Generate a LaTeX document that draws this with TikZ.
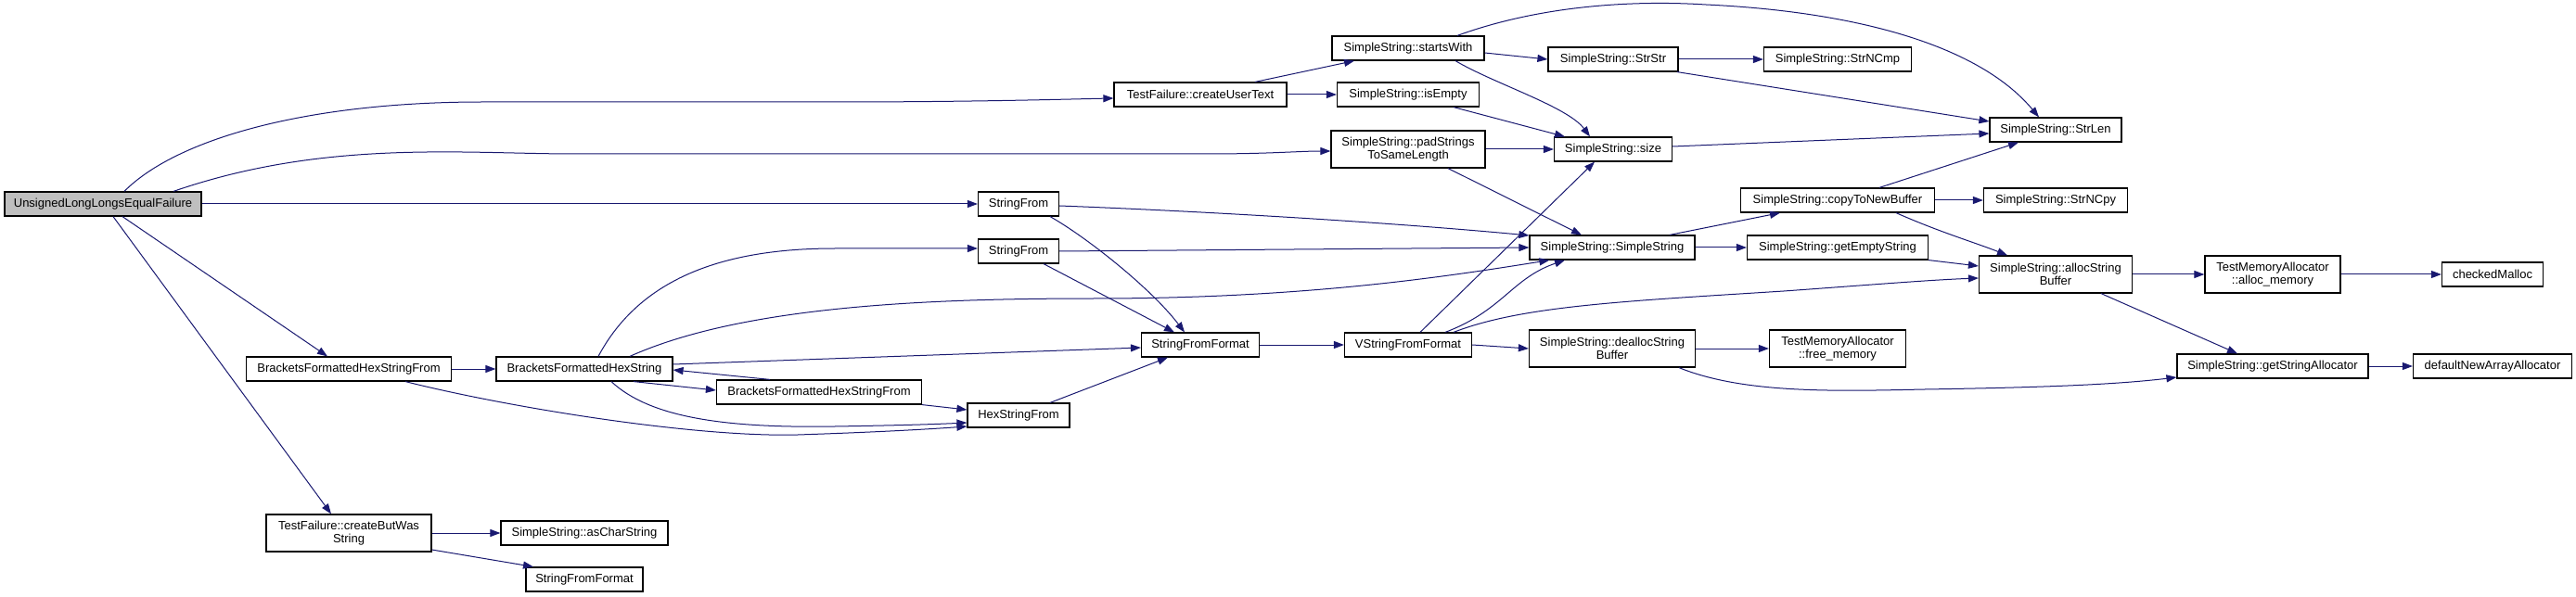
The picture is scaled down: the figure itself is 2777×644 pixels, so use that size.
\documentclass[tikz,border=0pt]{standalone}
\usepackage{fontspec}
\setmainfont{Liberation Sans}
\usetikzlibrary{arrows.meta}
\definecolor{edgeblue}{RGB}{25,25,112}
\definecolor{rootgray}{RGB}{191,191,191}
\tikzset{
  fn/.style={draw=black, line width=1.2pt, fill=white, inner sep=0pt, minimum height=26pt, align=center,
    font=\fontsize{13}{14}\selectfont},
  tall/.style={minimum height=40pt},
  edge/.style={draw=edgeblue, line width=1pt, -{Triangle[length=11pt,width=8pt]}},
}
\begin{document}
\begin{tikzpicture}[x=1pt,y=-1pt]
\useasboundingbox (0,0) rectangle (2777,644);
% nodes
\node[fn, fill=rootgray, minimum width=212pt] (root) at (111,220) {UnsignedLongLongsEqualFailure};
\node[fn, minimum width=186pt] (cut) at (1294,102) {TestFailure::createUserText};
\node[fn, minimum width=87pt] (sf1) at (1098,220) {StringFrom};
\node[fn, minimum width=87pt] (sf2) at (1098,271) {StringFrom};
\node[fn, minimum width=164pt] (sw) at (1518,52) {SimpleString::startsWith};
\node[fn, minimum width=140pt] (strstr) at (1739,64) {SimpleString::StrStr};
\node[fn, minimum width=159pt] (strncmp) at (1981,64) {SimpleString::StrNCmp};
\node[fn, minimum width=153pt] (isempty) at (1518,102) {SimpleString::isEmpty};
\node[fn, tall, minimum width=166pt] (pad) at (1518,161) {SimpleString::padStrings\\ToSameLength};
\node[fn, minimum width=127pt] (size) at (1739,161) {SimpleString::size};
\node[fn, minimum width=142pt] (strlen) at (2216,140) {SimpleString::StrLen};
\node[fn, minimum width=209pt] (copy) at (1981,216) {SimpleString::copyToNewBuffer};
\node[fn, minimum width=155pt] (strncpy) at (2216,216) {SimpleString::StrNCpy};
\node[fn, minimum width=178pt] (ss) at (1738,267) {SimpleString::SimpleString};
\node[fn, minimum width=195pt] (ges) at (1981,267) {SimpleString::getEmptyString};
\node[fn, tall, minimum width=165pt] (alloc) at (2216,296) {SimpleString::allocString\\Buffer};
\node[fn, tall, minimum width=146pt] (amem) at (2450,296) {TestMemoryAllocator\\::alloc\_memory};
\node[fn, minimum width=109pt] (cmalloc) at (2687,296) {checkedMalloc};
\node[fn, minimum width=221pt] (bfhsf1) at (376,398) {BracketsFormattedHexStringFrom};
\node[fn, minimum width=190pt] (bfhs) at (630,398) {BracketsFormattedHexString};
\node[fn, minimum width=221pt] (bfhsf2) at (883,423) {BracketsFormattedHexStringFrom};
\node[fn, minimum width=110pt] (hsf) at (1098,448) {HexStringFrom};
\node[fn, minimum width=127pt] (sff1) at (1294,372) {StringFromFormat};
\node[fn, tall, minimum width=178pt] (cbws) at (376,575) {TestFailure::createButWas\\String};
\node[fn, minimum width=180pt] (acs) at (630,575) {SimpleString::asCharString};
\node[fn, minimum width=126pt] (sff2) at (630,625) {StringFromFormat};
\node[fn, minimum width=137pt] (vsff) at (1518,372) {VStringFromFormat};
\node[fn, tall, minimum width=179pt] (dealloc) at (1738,376) {SimpleString::deallocString\\Buffer};
\node[fn, tall, minimum width=147pt] (fmem) at (1981,376) {TestMemoryAllocator\\::free\_memory};
\node[fn, minimum width=206pt] (gsa) at (2450,395) {SimpleString::getStringAllocator};
\node[fn, minimum width=171pt] (dnaa) at (2687,395) {defaultNewArrayAllocator};
% edges from root
\draw[edge] ([xshift=23pt]root.north) .. controls (190,150) and (330,110) .. (520,110) -- (900,110) .. controls (1050,110) and (1150,107) .. ([yshift=-4pt]cut.west);
\draw[edge] ([xshift=76pt]root.north) .. controls (350,150) and (500,166) .. (620,166) -- (1300,166) .. controls (1370,166) and (1400,163) .. ([yshift=-2pt]pad.west);
\draw[edge] (root.east) -- (sf1.west);
\draw[edge] ([xshift=21pt]root.south) -- ([xshift=-23pt]bfhsf1.north);
\draw[edge] ([xshift=11pt]root.south) -- ([xshift=-19pt]cbws.north);
% createUserText
\draw[edge] ([xshift=59pt]cut.north) -- ([xshift=-58pt]sw.south);
\draw[edge] (cut.east) -- (isempty.west);
% startsWith
\draw[edge] ([yshift=-5pt]sw.east) -- (strstr.west);
\draw[edge] ([xshift=53pt]sw.north) .. controls (1660,6) and (1760,0) .. (1839,5) .. controls (1990,12) and (2130,45) .. ([xshift=-18pt]strlen.north);
\draw[edge] ([xshift=51pt]sw.south) .. controls (1610,90) and (1690,115) .. ([xshift=-25pt]size.north);
% StrStr
\draw[edge] (strstr.east) -- (strncmp.west);
\draw[edge] ([xshift=69pt]strstr.south) -- ([yshift=9pt]strlen.west);
% isEmpty
\draw[edge] ([xshift=49pt]isempty.south) -- ([xshift=-52pt]size.north);
% padStrings
\draw[edge] (pad.east) -- (size.west);
\draw[edge] ([xshift=43pt]pad.south) -- ([xshift=-33pt]ss.north);
% size
\draw[edge] ([yshift=3pt]size.east) -- ([yshift=-4pt]strlen.west);
% copyToNewBuffer
\draw[edge] ([xshift=45pt]copy.north) -- ([xshift=-40pt]strlen.south);
\draw[edge] (copy.east) -- (strncpy.west);
\draw[edge] ([xshift=63pt]copy.south) .. controls (2090,250) and (2130,262) .. ([xshift=-52pt]alloc.north);
% SimpleString
\draw[edge] ([xshift=62pt]ss.north) -- ([xshift=-62pt]copy.south);
\draw[edge] (ss.east) -- (ges.west);
% getEmptyString
\draw[edge] (ges.south east) -- ([yshift=9pt]alloc.west);
% allocStringBuffer
\draw[edge] (alloc.east) -- (amem.west);
\draw[edge] ([xshift=49pt]alloc.south) -- ([xshift=-38pt]gsa.north);
\draw[edge] (amem.east) -- (cmalloc.west);
\draw[edge] (gsa.east) -- (dnaa.west);
% StringFrom 1
\draw[edge] ([yshift=-2pt]sf1.east) .. controls (1300,228) and (1500,240) .. ([yshift=13pt]ss.west);
\draw[edge] ([xshift=34pt]sf1.south) .. controls (1170,255) and (1240,310) .. ([xshift=-17pt]sff1.north);
% StringFrom 2
\draw[edge] (sf2.east) -- (ss.west);
\draw[edge] ([xshift=27pt]sf2.south) -- ([xshift=-28pt]sff1.north);
% BracketsFormattedHexString
\draw[edge] ([xshift=15pt]bfhs.north) .. controls (690,300) and (780,268) .. (900,268) -- ([yshift=3pt]sf2.west);
\draw[edge] ([xshift=49pt]bfhs.north) .. controls (800,330) and (1000,322) .. (1180,322) .. controls (1400,322) and (1550,300) .. ([xshift=22pt]ss.south west);
\draw[edge] ([yshift=5pt]bfhs.east) -- ([yshift=-3pt]sff1.west);
\draw[edge] ([xshift=53pt]bfhs.south) -- ([yshift=2pt]bfhsf2.west);
\draw[edge] ([xshift=29pt]bfhs.south) .. controls (700,450) and (780,462) .. (900,460) .. controls (960,459) and (1000,458) .. ([yshift=-8pt]hsf.west);
% BracketsFormattedHexStringFrom 2
\draw[edge] ([xshift=-53pt]bfhsf2.north) -- ([yshift=-1pt]bfhs.east);
\draw[edge] (bfhsf2.south east) -- ([yshift=6pt]hsf.west);
% BracketsFormattedHexStringFrom 1
\draw[edge] (bfhsf1.east) -- (bfhs.west);
\draw[edge] ([xshift=61pt]bfhsf1.south) .. controls (550,440) and (750,472) .. (860,469) .. controls (950,466) and (1000,463) .. ([yshift=-12pt]hsf.west);
% HexStringFrom
\draw[edge] ([xshift=34pt]hsf.north) -- ([xshift=-35pt]sff1.south);
% StringFromFormat
\draw[edge] (sff1.east) -- (vsff.west);
% VStringFromFormat
\draw[edge] ([xshift=13pt]vsff.north) -- ([xshift=-20pt]size.south);
\draw[edge] ([xshift=40pt]vsff.north) .. controls (1620,335) and (1630,300) .. ([xshift=-51pt]ss.south);
\draw[edge] ([xshift=49pt]vsff.north) .. controls (1640,330) and (1750,325) .. (1923,314) .. controls (2020,307) and (2080,302) .. ([yshift=-4pt]alloc.west);
\draw[edge] (vsff.east) -- (dealloc.west);
% deallocStringBuffer
\draw[edge] (dealloc.east) -- (fmem.west);
\draw[edge] ([xshift=72pt]dealloc.south) .. controls (1880,425) and (1980,422) .. (2075,420) .. controls (2200,418) and (2280,415) .. ([yshift=-12pt]gsa.west);
% createButWasString
\draw[edge] (cbws.east) -- (acs.west);
\draw[edge] ([yshift=-18pt]cbws.east) -- ([xshift=-55pt]sff2.north);
\end{tikzpicture}
\end{document}
